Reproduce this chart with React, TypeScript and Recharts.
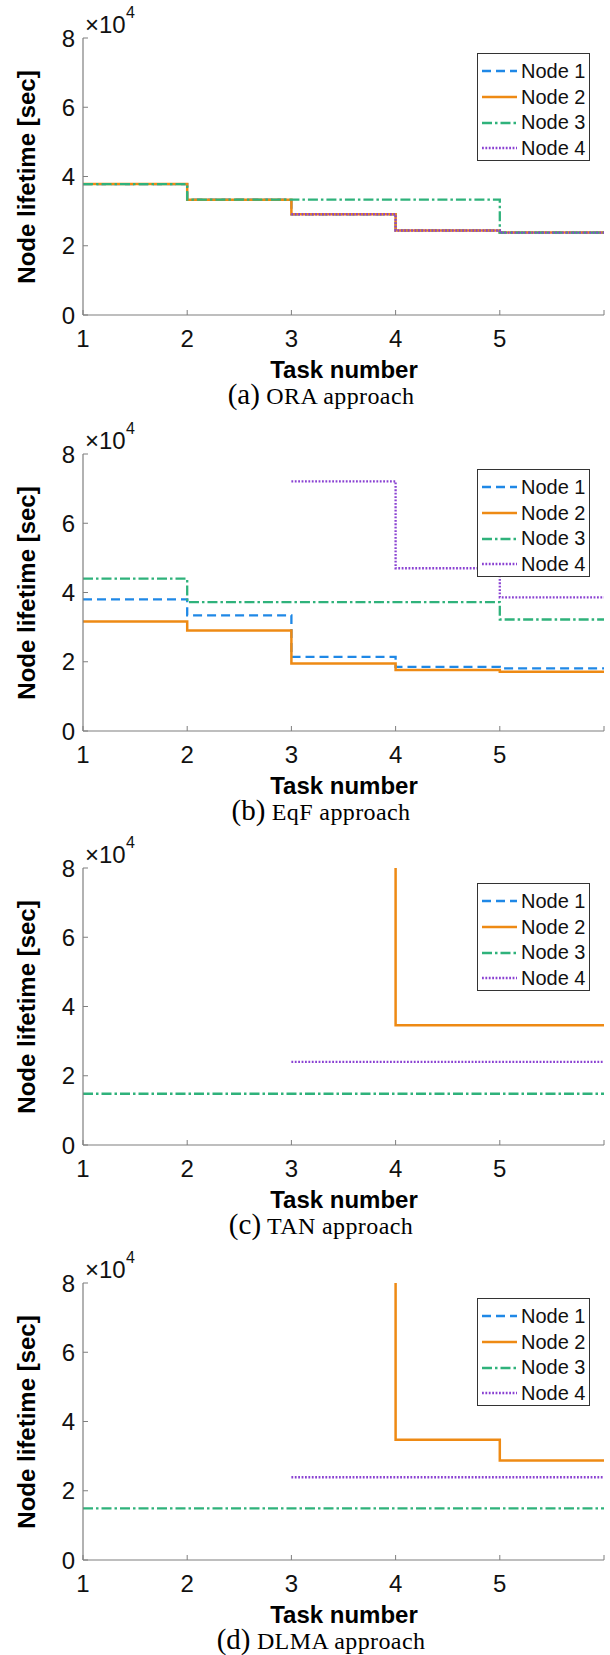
import { Line, LineChart, XAxis, YAxis } from "recharts";

const tasks = [1, 2, 3, 4, 5, 6];
const xTicks = [1, 2, 3, 4, 5, 6];
const xTickLabels = ["1", "2", "3", "4", "5", ""];
const yTicks = [0, 20000, 40000, 60000, 80000];

const nodeNames = ["Node 1", "Node 2", "Node 3", "Node 4"];

// (a) ORA approach
const oraNode1 = [37800, 33300, 29100, 24400, 23800, 23800];
const oraNode2 = [37800, 33300, 29100, 24400, 23800, 23800];
const oraNode3 = [37800, 33300, 33300, 33300, 23800, 23800];
const oraNode4 = [null, null, 29100, 24400, 23800, 23800];

// (b) EqF approach
const eqfNode1 = [38000, 33400, 21400, 18500, 18100, 18100];
const eqfNode2 = [31600, 29000, 19500, 17600, 17100, 17100];
const eqfNode3 = [44000, 37200, 37200, 37200, 32200, 32200];
const eqfNode4 = [null, null, 72100, 47000, 38600, 38600];

// (c) TAN approach (node 2 starts above the axis range)
const tanNode1 = [null, null, null, null, null, null];
const tanNode2 = [null, null, 100000, 34600, 34600, 34600];
const tanNode3 = [14800, 14800, 14800, 14800, 14800, 14800];
const tanNode4 = [null, null, 24000, 24000, 24000, 24000];

// (d) DLMA approach
const dlmaNode1 = [null, null, null, null, null, null];
const dlmaNode2 = [null, null, 100000, 34700, 28750, 28750];
const dlmaNode3 = [14900, 14900, 14900, 14900, 14900, 14900];
const dlmaNode4 = [null, null, 23900, 23900, 23900, 23900];

const AXIS = "#7f7f7f";
const SANS = '"Liberation Sans", Arial, sans-serif';
const SERIF = '"Liberation Serif", "Times New Roman", serif';
const X_MARGIN = 15;
const Y_MARGIN = 8;

const styles = [
  { color: "#1f88e6", dash: "9 5", width: 2.3 },
  { color: "#ee8a14", dash: undefined, width: 2.5 },
  { color: "#2fb27b", dash: "10 3 2.5 3", width: 2.3 },
  { color: "#8a42d2", dash: "1.8 1.6", width: 2.3 },
];

function XTick(props: any) {
  const { x, y, payload } = props;
  const axisY = y - X_MARGIN;
  return (
    <g>
      <line x1={x} x2={x} y1={axisY} y2={axisY - 5} stroke={AXIS} strokeWidth={1} />
      <text x={x} y={y} dy="0.71em" textAnchor="middle" fontSize={24} fontFamily={SANS} fill="#111">
        {xTickLabels[xTicks.indexOf(payload.value)]}
      </text>
    </g>
  );
}

function YTick(props: any) {
  const { x, y, payload } = props;
  const axisX = x + Y_MARGIN;
  return (
    <g>
      <line x1={axisX} x2={axisX + 5} y1={y} y2={y} stroke={AXIS} strokeWidth={1} />
      <text x={x} y={y} dy="0.355em" textAnchor="end" fontSize={24} fontFamily={SANS} fill="#111">
        {payload.value / 10000}
      </text>
    </g>
  );
}

function LegendBox() {
  return (
    <div
      style={{
        position: "absolute",
        left: 477,
        top: 53,
        width: 113,
        height: 108,
        boxSizing: "border-box",
        border: "1.3px solid #333",
        background: "#fff",
        paddingTop: 4,
        fontFamily: SANS,
        fontSize: 20,
        color: "#111",
      }}
    >
      {nodeNames.map((name, i) => (
        <div key={name} style={{ height: 25.8, display: "flex", alignItems: "center" }}>
          <svg width={40} height={26} style={{ flex: "none" }}>
            <line
              x1={4}
              x2={39}
              y1={13}
              y2={13}
              stroke={styles[i].color}
              strokeWidth={styles[i].width}
              strokeDasharray={styles[i].dash}
            />
          </svg>
          <span style={{ marginLeft: 3, lineHeight: 1 }}>{name}</span>
        </div>
      ))}
    </div>
  );
}

function Panel({ top, series, tag, name }: { top: number; series: (number | null)[][]; tag: string; name: string }) {
  const data = tasks.map((t, i) => ({
    task: t,
    n1: series[0][i],
    n2: series[1][i],
    n3: series[2][i],
    n4: series[3][i],
  }));
  return (
    <div style={{ position: "absolute", top, left: 0, width: 610, height: 415 }}>
      <LineChart width={610} height={370} data={data} margin={{ top: 38, right: 6, bottom: 0, left: 0 }}>
        <XAxis
          dataKey="task"
          type="number"
          domain={[1, 6]}
          ticks={xTicks}
          interval={0}
          height={55}
          tickSize={0}
          tickMargin={X_MARGIN}
          tickLine={false}
          tick={(p: any) => <XTick {...p} />}
          axisLine={{ stroke: AXIS, strokeWidth: 1.2 }}
        />
        <YAxis
          type="number"
          domain={[0, 80000]}
          ticks={yTicks}
          interval={0}
          allowDataOverflow
          width={83}
          tickSize={0}
          tickMargin={Y_MARGIN}
          tickLine={false}
          tick={(p: any) => <YTick {...p} />}
          axisLine={{ stroke: AXIS, strokeWidth: 1.2 }}
        />
        {["n1", "n2", "n3", "n4"].map((key, i) => (
          <Line
            key={key}
            dataKey={key}
            type="stepAfter"
            stroke={styles[i].color}
            strokeWidth={styles[i].width}
            strokeDasharray={styles[i].dash}
            dot={false}
            activeDot={false}
            isAnimationActive={false}
          />
        ))}
      </LineChart>
      <LegendBox />
      <div style={{ position: "absolute", left: 85, top: 13, fontFamily: SANS, fontSize: 24, lineHeight: 1, color: "#111" }}>
        ×10
      </div>
      <div style={{ position: "absolute", left: 126, top: 5, fontFamily: SANS, fontSize: 16, lineHeight: 1, color: "#111" }}>
        4
      </div>
      <div
        style={{
          position: "absolute",
          left: 27,
          top: 176.5,
          transform: "translate(-50%, -50%) rotate(-90deg)",
          fontFamily: SANS,
          fontWeight: "bold",
          fontSize: 24,
          lineHeight: 1,
          whiteSpace: "nowrap",
          color: "#000",
        }}
      >
        Node lifetime [sec]
      </div>
      <div
        style={{
          position: "absolute",
          left: 344,
          top: 370,
          transform: "translate(-50%, -50%)",
          fontFamily: SANS,
          fontWeight: "bold",
          fontSize: 24,
          lineHeight: 1,
          whiteSpace: "nowrap",
          color: "#000",
        }}
      >
        Task number
      </div>
      <div
        style={{
          position: "absolute",
          left: 321,
          top: 380,
          transform: "translateX(-50%)",
          fontFamily: SERIF,
          lineHeight: "28px",
          whiteSpace: "nowrap",
          color: "#000",
        }}
      >
        <span style={{ fontSize: 29 }}>({tag})</span>
        <span style={{ fontSize: 24, letterSpacing: 0.4 }}> {name}</span>
      </div>
    </div>
  );
}

export default function App() {
  return (
    <div style={{ position: "relative", width: 610, height: 1655, background: "#fff" }}>
      <style>{"body{margin:0}"}</style>
      <Panel top={0} tag="a" name="ORA approach" series={[oraNode1, oraNode2, oraNode3, oraNode4]} />
      <Panel top={416} tag="b" name="EqF approach" series={[eqfNode1, eqfNode2, eqfNode3, eqfNode4]} />
      <Panel top={830} tag="c" name="TAN approach" series={[tanNode1, tanNode2, tanNode3, tanNode4]} />
      <Panel top={1245} tag="d" name="DLMA approach" series={[dlmaNode1, dlmaNode2, dlmaNode3, dlmaNode4]} />
    </div>
  );
}
